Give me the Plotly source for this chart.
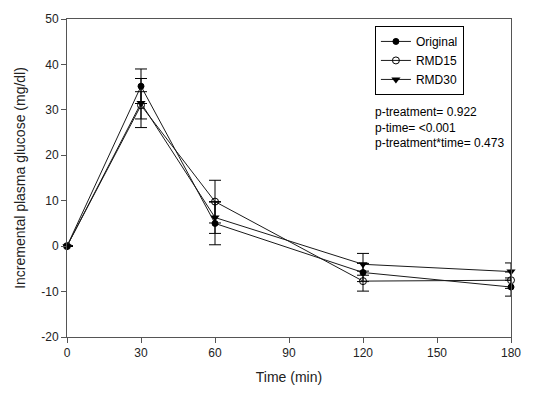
import plotly.graph_objects as go

# Sampling times (min)
time_min = [0, 30, 60, 120, 180]

# Incremental plasma glucose (mg/dl), mean and error per group
original = [0, 35.2, 5.0, -5.8, -9.0]
original_err = [0, 3.8, 4.7, 2.0, 2.0]

rmd15 = [0, 31.0, 9.8, -7.7, -7.5]
rmd15_err = [0, 3.0, 4.7, 2.2, 1.8]

rmd30 = [0, 31.5, 6.3, -4.0, -5.6]
rmd30_err = [0, 5.4, 3.5, 2.4, 1.9]

x_ticks = [0, 30, 60, 90, 120, 150, 180]
y_ticks = [-20, -10, 0, 10, 20, 30, 40, 50]

stats_lines = ["p-treatment= 0.922", "p-time= <0.001", "p-treatment*time= 0.473"]

FONT = "Arial, Liberation Sans, sans-serif"
LINE = "#1a1a1a"

plot_l, plot_r, plot_t, plot_b = 67, 514, 18, 339


def px_x(p):
    return (p - plot_l) / (plot_r - plot_l)


def px_y(p):
    return 1 - (p - plot_t) / (plot_b - plot_t)


fig = go.Figure()

series = [
    ("Original", original, original_err, dict(symbol="circle", size=6, color="black",
                                                 line=dict(color="black", width=1))),
    ("RMD15", rmd15, rmd15_err, dict(symbol="circle-open", size=7, color="black",
                                     line=dict(color="black", width=1))),
    ("RMD30", rmd30, rmd30_err, dict(symbol="triangle-down", size=8, color="black",
                                     line=dict(color="black", width=0))),
]

for name, vals, errs, marker in series:
    fig.add_trace(go.Scatter(
        x=time_min, y=vals, name=name, mode="lines+markers",
        line=dict(color=LINE, width=1),
        marker=marker,
        error_y=dict(type="data", array=errs, visible=True, color="black",
                     thickness=1, width=6),
        cliponaxis=False,
    ))

fig.add_annotation(
    x=px_x(375), y=px_y(103), xref="paper", yref="paper", showarrow=False,
    text="<br>".join(stats_lines), align="left", xanchor="left", yanchor="top",
    font=dict(family=FONT, size=12, color="black"),
)

fig.update_layout(
    width=533, height=394,
    margin=dict(l=plot_l, r=533 - plot_r, t=plot_t, b=394 - plot_b),
    paper_bgcolor="white", plot_bgcolor="white",
    font=dict(family=FONT, size=12, color="black"),
    showlegend=True,
    legend=dict(
        x=px_x(377), y=px_y(25),
        xanchor="left", yanchor="top",
        bordercolor="black", borderwidth=1, bgcolor="white",
        font=dict(family=FONT, size=12, color="black"),
        tracegroupgap=0,
    ),
    xaxis=dict(
        range=[0, 180], tickvals=x_ticks, ticktext=[str(v) for v in x_ticks],
        showline=True, linecolor="#555", linewidth=1, mirror=True,
        ticks="outside", ticklen=5, tickcolor="#555",
        showgrid=False, zeroline=False,
        tickfont=dict(family=FONT, size=12, color="#222"),
        title=dict(text="Time (min)", font=dict(family=FONT, size=14, color="#222"),
                   standoff=12),
    ),
    yaxis=dict(
        range=[-20, 50], tickvals=y_ticks, ticktext=[str(v) for v in y_ticks],
        showline=True, linecolor="#555", linewidth=1, mirror=True,
        ticks="outside", ticklen=5, tickcolor="#555",
        showgrid=False, zeroline=False,
        tickfont=dict(family=FONT, size=12, color="#222"),
        title=dict(text="Incremental plasma glucose (mg/dl)",
                   font=dict(family=FONT, size=14, color="#222"), standoff=12),
    ),
)

fig.write_html("out.html")
